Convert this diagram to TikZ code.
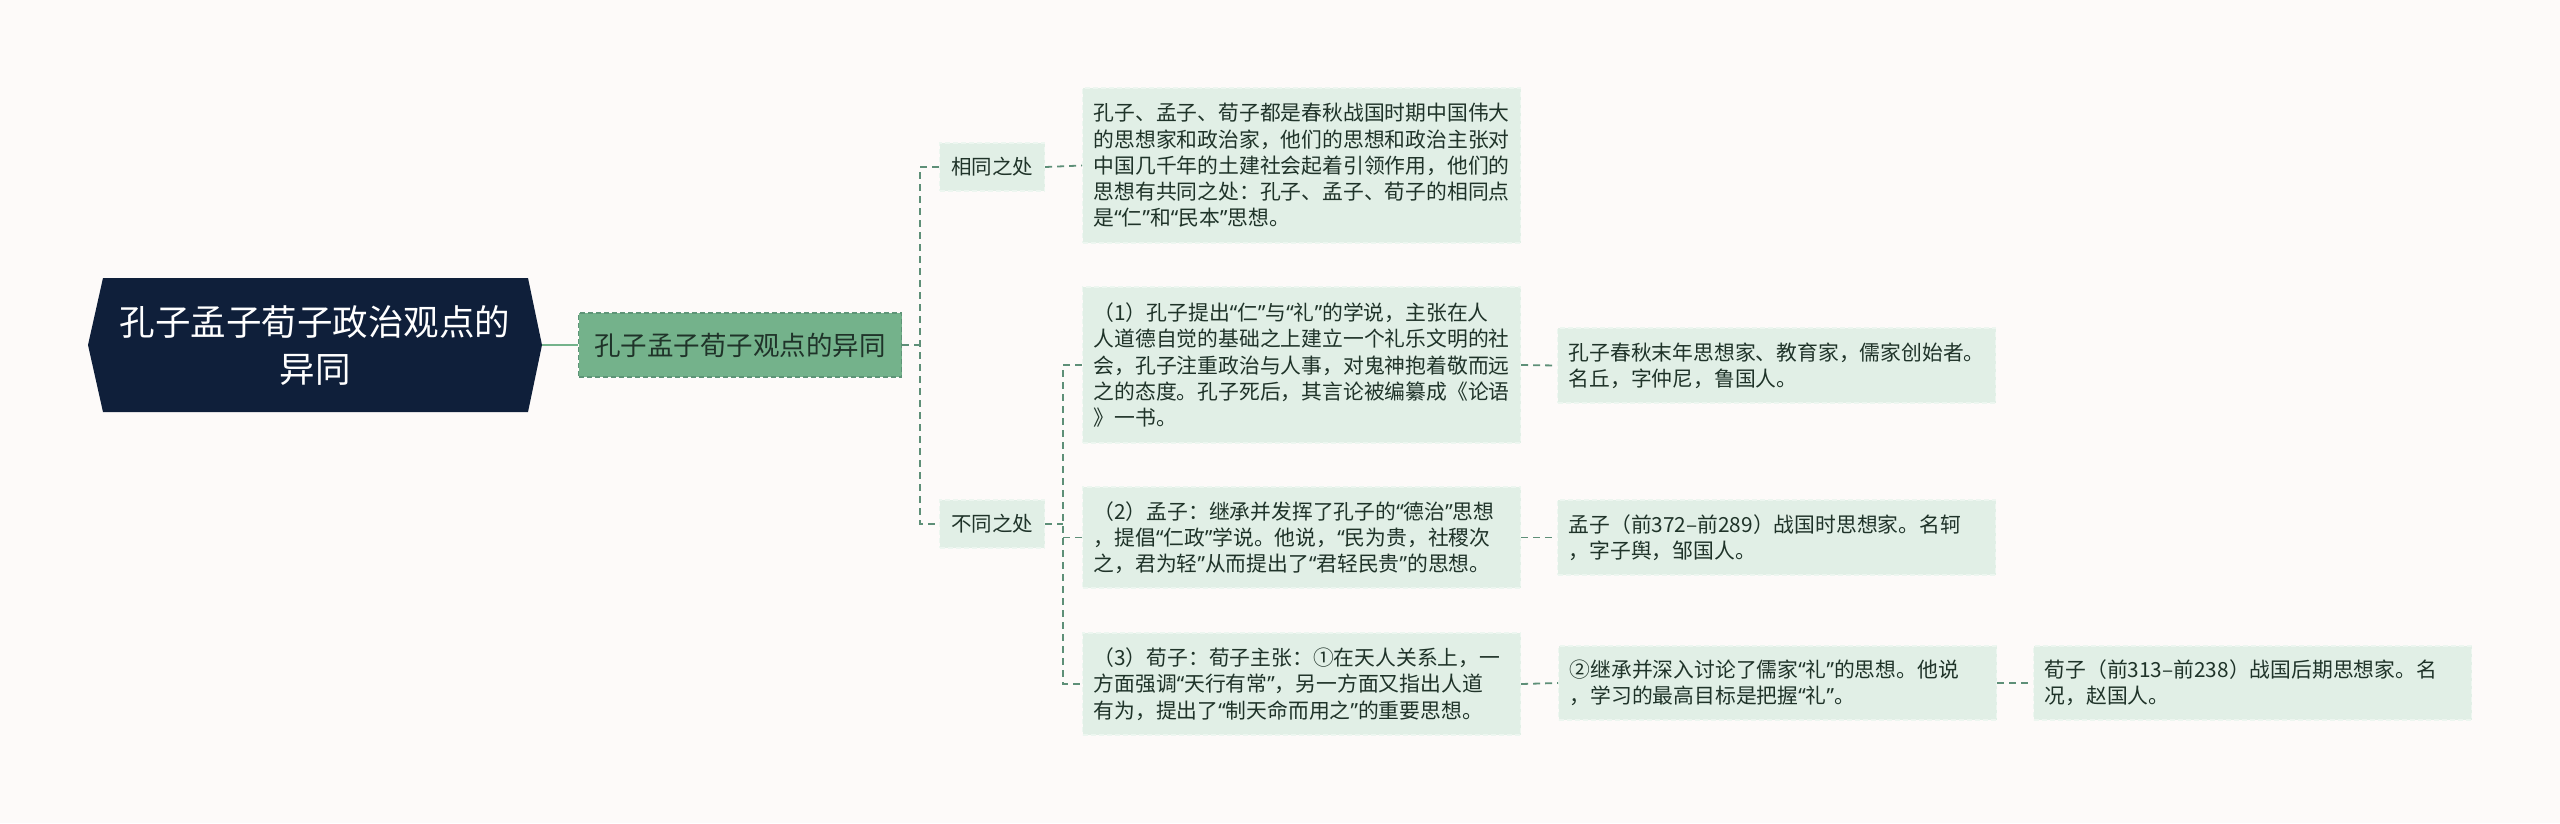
\documentclass[tikz,border=0pt]{standalone}
\usepackage{fontspec}
\setmainfont{Noto Sans CJK SC}
\newfontfamily\quotefont{Noto Sans}
\newcommand{\oq}{{\quotefont “}}
\newcommand{\cq}{{\quotefont ”}}
\definecolor{bgc}{HTML}{FDFAF9}
\definecolor{rootc}{HTML}{0F1F3A}
\definecolor{midc}{HTML}{74B28B}
\definecolor{middraw}{HTML}{5E9477}
\definecolor{boxc}{HTML}{E1EFE6}
\definecolor{boxdraw}{HTML}{EDF6F0}
\definecolor{connc}{HTML}{5E8F78}
\definecolor{txtc}{HTML}{1F3329}
\tikzset{
  conn/.style={draw=connc, line width=1.8pt, dash pattern=on 7pt off 5pt},
  solidconn/.style={draw=midc, line width=2.5pt},
  infobox/.style={fill=boxc, draw=boxdraw, line width=1.2pt, dash pattern=on 5pt off 3pt,
     anchor=west, inner xsep=11pt, inner ysep=0pt, align=left, text=txtc,
     font=\fontsize{20.8pt}{26.3pt}\selectfont, minimum width=438pt, text width=416pt},
  tagbox/.style={fill=boxc, draw=boxdraw, line width=1.2pt, dash pattern=on 5pt off 3pt,
     anchor=west, inner sep=0pt, text=txtc, minimum width=105pt, minimum height=48pt,
     font=\fontsize{20.5pt}{24pt}\selectfont},
}
\begin{document}
\begin{tikzpicture}[x=1pt,y=-1pt]
\fill[bgc] (0,0) rectangle (2560,823);
\useasboundingbox (0,0) rectangle (2560,823);
% root hexagon
\fill[rootc] (88,345) -- (103,278) -- (528,278) -- (542,345) -- (528,412) -- (103,412) -- cycle;
\node (root) at (315,345) [text=white, align=center, font=\fontsize{35.5pt}{47pt}\selectfont] {孔子孟子荀子政治观点的\\异同};
\coordinate (rootE) at (542,345);
% middle node
\node (mid) [anchor=west, fill=midc, draw=middraw, line width=1.3pt, dash pattern=on 5pt off 3pt,
  minimum width=323pt, minimum height=64pt, inner sep=0pt, text=txtc,
  font=\fontsize{26.5pt}{30pt}\selectfont] at (578,345) {孔子孟子荀子观点的异同};
% tags
\node (same) [tagbox] at (939,167) {相同之处};
\node (diff) [tagbox] at (939,524) {不同之处};
% info boxes
\node (b0) [infobox, minimum height=155pt] at (1082,165.5) {孔子、孟子、荀子都是春秋战国时期中国伟大\\的思想家和政治家，他们的思想和政治主张对\\中国几千年的土建社会起着引领作用，他们的\\思想有共同之处：孔子、孟子、荀子的相同点\\是\oq 仁\cq 和\oq 民本\cq 思想。};
\node (b1) [infobox, minimum height=156pt] at (1082,365) {（1）孔子提出\oq 仁\cq 与\oq 礼\cq 的学说，主张在人\\人道德自觉的基础之上建立一个礼乐文明的社\\会，孔子注重政治与人事，对鬼神抱着敬而远\\之的态度。孔子死后，其言论被编纂成《论语\\》一书。};
\node (b2) [infobox, minimum height=101pt] at (1082,537.5) {（2）孟子：继承并发挥了孔子的\oq 德治\cq 思想\\，提倡\oq 仁政\cq 学说。他说，\oq 民为贵，社稷次\\之，君为轻\cq 从而提出了\oq 君轻民贵\cq 的思想。};
\node (b3) [infobox, minimum height=102pt] at (1082,684) {（3）荀子：荀子主张：①在天人关系上，一\\方面强调\oq 天行有常\cq ，另一方面又指出人道\\有为，提出了\oq 制天命而用之\cq 的重要思想。};
\node (c1) [infobox, minimum height=75pt] at (1557,365.5) {孔子春秋末年思想家、教育家，儒家创始者。\\名丘，字仲尼，鲁国人。};
\node (c2) [infobox, minimum height=75pt] at (1557,537.5) {孟子（前372–前289）战国时思想家。名轲\\，字子舆，邹国人。};
\node (c3) [infobox, minimum height=74pt] at (1558,683) {②继承并深入讨论了儒家\oq 礼\cq 的思想。他说\\，学习的最高目标是把握\oq 礼\cq 。};
\node (d3) [infobox, minimum height=74pt, minimum width=437pt] at (2033,683) {荀子（前313–前238）战国后期思想家。名\\况，赵国人。};
% junction coordinates
\coordinate (j1) at (920,345);
\coordinate (j2) at (1063,524);
% connectors
\draw[solidconn] (rootE) -- (mid.west);
\draw[conn] (mid.east) -- (j1);
\draw[conn] (same.west) -- (same.west -| j1) -- (diff.west -| j1) -- (diff.west);
\draw[conn] (same.east) -- (b0.west);
\draw[conn] (diff.east) -- (j2);
\draw[conn] (b1.west) -- (b1.west -| j2) -- (b3.west -| j2) -- (b3.west);
\draw[conn] (b2.west -| j2) -- (b2.west);
\draw[conn] (b1.east) -- (c1.west);
\draw[conn] (b2.east) -- (c2.west);
\draw[conn] (b3.east) -- (c3.west);
\draw[conn] (c3.east) -- (d3.west);
\end{tikzpicture}
\end{document}
